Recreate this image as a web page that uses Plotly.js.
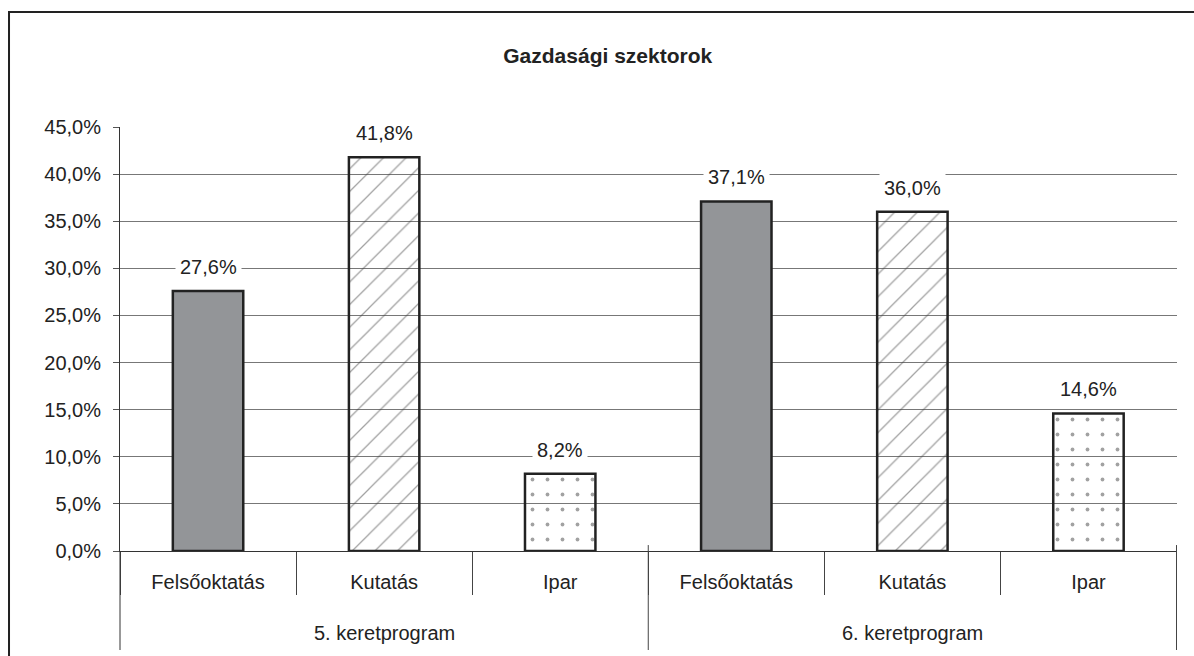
<!DOCTYPE html>
<html>
<head>
<meta charset="utf-8">
<script src="https://cdn.plot.ly/plotly-3.0.1.min.js"></script>
<style>html,body{margin:0;padding:0;background:#fff;}#chart{width:1194px;height:656px;}</style>
</head>
<body>
<div id="chart"></div>
<script>
const groups = ["5. keretprogram", "5. keretprogram", "5. keretprogram", "6. keretprogram", "6. keretprogram", "6. keretprogram"];
const sectors = ["Felsőoktatás", "Kutatás", "Ipar", "Felsőoktatás", "Kutatás", "Ipar"];
const values = [27.6, 41.8, 8.2, 37.1, 36.0, 14.6];
const sectorStyles = {
  "Felsőoktatás": {color: "#939598", shape: ""},
  "Kutatás": {color: "rgba(0,0,0,0)", shape: "/"},
  "Ipar": {color: "rgba(0,0,0,0)", shape: "."}
};
const titleText = "Gazdasági szektorok";

const font = "Liberation Sans, Arial, sans-serif";
const keys = groups.map((g, i) => g + " | " + sectors[i]);

const trace = {
  type: "bar",
  x: keys,
  y: values,
  marker: {
    color: sectors.map(s => sectorStyles[s].color),
    line: {color: "#222", width: 2.5},
    pattern: {
      shape: sectors.map(s => sectorStyles[s].shape),
      fgcolor: "#000",
      bgcolor: "rgba(0,0,0,0)",
      size: sectors.map(s => s === "Ipar" ? 15 : 16),
      solidity: sectors.map(s => s === "Ipar" ? 0.05 : 0.08),
      fillmode: "overlay"
    }
  },
  hoverinfo: "none",
  showlegend: false
};

const annotations = values.map((v, i) => ({
  x: i, y: v, xref: "x", yref: "y",
  text: v.toFixed(1).replace(".", ",") + "%",
  showarrow: false, yanchor: "middle", yshift: 24,
  bgcolor: "#fff", borderpad: 4,
  font: {family: font, size: 20, color: "#222"}
}));

// group labels and group dividers
const uniqueGroups = [...new Set(groups)];
const shapes = [];
uniqueGroups.forEach(g => {
  const idx = groups.map((gg, i) => gg === g ? i : -1).filter(i => i >= 0);
  const center = (idx[0] + idx[idx.length - 1]) / 2;
  annotations.push({
    x: center, y: -0.193, xref: "x", yref: "paper",
    text: g, showarrow: false, yanchor: "middle",
    font: {family: font, size: 20, color: "#222"}
  });
  shapes.push({type: "line", xref: "x", yref: "paper",
    x0: idx[idx.length - 1] + 0.5, x1: idx[idx.length - 1] + 0.5,
    y0: 0.014, y1: -0.2335, line: {color: "#444", width: 1}});
});
// extended y-axis line
shapes.push({type: "line", xref: "paper", yref: "paper", x0: 0, x1: 0, y0: 0, y1: -0.2335,
  line: {color: "#333", width: 1}});
// outer chart border
shapes.push({type: "rect", xref: "paper", yref: "paper", x0: -0.105, x1: 1.05, y0: -0.3, y1: 1.271,
  line: {color: "#222", width: 2}, fillcolor: "rgba(0,0,0,0)", layer: "below"});

const layout = {
  width: 1194, height: 656,
  margin: {l: 120, r: 17, t: 127, b: 105},
  paper_bgcolor: "#fff", plot_bgcolor: "#fff",
  separators: ",.",
  bargap: 0.6,
  title: {
    text: "<b>" + titleText + "</b>",
    xref: "container", x: 0.509, xanchor: "center",
    yref: "container", y: 0.915, yanchor: "middle",
    font: {family: font, size: 21, color: "#222"}
  },
  font: {family: font, size: 20, color: "#222"},
  xaxis: {
    type: "category",
    tickvals: keys, ticktext: sectors,
    showline: true, linecolor: "#333", linewidth: 1,
    ticks: "outside", tickson: "boundaries", ticklen: 43, tickcolor: "#444", tickwidth: 1,
    ticklabelstandoff: 13,
    tickfont: {family: font, size: 20, color: "#222"},
    showgrid: false, zeroline: false
  },
  yaxis: {
    range: [0, 45], dtick: 5, tick0: 0,
    tickformat: ".1f", ticksuffix: "%",
    showgrid: true, gridcolor: "#777", gridwidth: 1,
    showline: true, linecolor: "#333", linewidth: 1,
    ticks: "outside", ticklen: 6, tickcolor: "#555",
    ticklabelstandoff: 8,
    zeroline: false,
    tickfont: {family: font, size: 20, color: "#222"}
  },
  annotations: annotations,
  shapes: shapes
};

Plotly.newPlot("chart", [trace], layout, {staticPlot: true, displayModeBar: false});
</script>
</body>
</html>
